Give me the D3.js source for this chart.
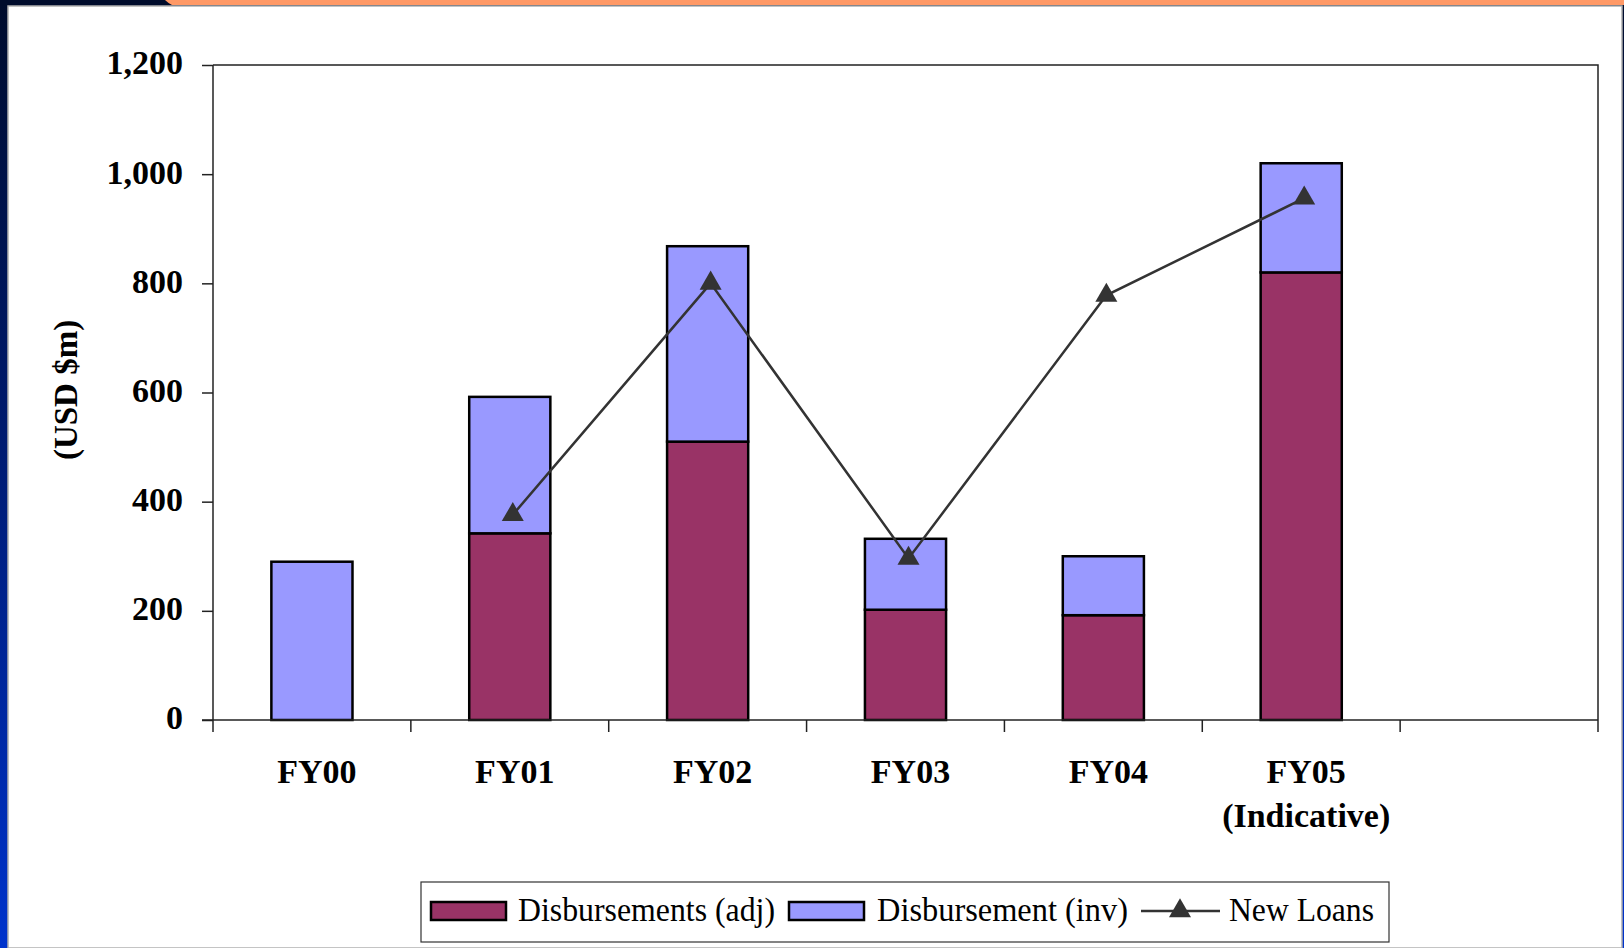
<!DOCTYPE html>
<html lang="en">
<head>
    <meta charset="UTF-8">
    <title>Disbursements and New Loans</title>
    <style>
        body{ margin: 0; background: #fff; }
        #main-svg{ display: block; }
        .tick-lbl{ font-family: "Liberation Serif", "Times New Roman", serif; font-weight: bold; font-size: 34px; fill: #000; }
        .leg-lbl{ font-family: "Liberation Serif", "Times New Roman", serif; font-size: 34px; fill: #000; }
    </style>
</head>
<body>
    <svg id="main-svg" width="1624" height="948" viewBox="0 0 1624 948"></svg>

    <script src="https://cdn.jsdelivr.net/npm/d3@7"></script>
    <script>
        // data
        const years = ['FY00', 'FY01', 'FY02', 'FY03', 'FY04', 'FY05'];
        const yearSub = ['', '', '', '', '', '(Indicative)'];
        const disbAdj = [0, 342, 510, 202, 192, 820];
        const disbInv = [290, 250, 358, 130, 108, 200];
        const newLoans = [null, 376, 800, 296, 778, 956];
        const yTicks = [0, 200, 400, 600, 800, 1000, 1200];

        const cAdj = '#993366', cInv = '#9999FF', cLine = '#333333';

        let svg = d3.select('#main-svg');

        // slide background bits
        let defs = svg.append('defs');
        let grad = defs.append('linearGradient').attr('id', 'side-grad')
            .attr('x1', 0).attr('y1', 0).attr('x2', 0).attr('y2', 1);
        grad.append('stop').attr('offset', '0%').attr('stop-color', '#000c2c');
        grad.append('stop').attr('offset', '45%').attr('stop-color', '#001a6e');
        grad.append('stop').attr('offset', '100%').attr('stop-color', '#0033cc');

        svg.append('rect').attr('x', 0).attr('y', 0).attr('width', 1624).attr('height', 948).attr('fill', 'url(#side-grad)');
        svg.append('rect').attr('x', 0).attr('y', 0).attr('width', 1624).attr('height', 6).attr('fill', '#000c2c');
        svg.append('path').attr('d', 'M165,0 L1624,0 L1624,5 L172,5 Q168,3 165,0 Z').attr('fill', '#FF9966');
        svg.append('rect').attr('x', 8).attr('y', 6).attr('width', 1614).attr('height', 942)
            .attr('fill', '#fff').attr('stroke', '#b0b0b0').attr('stroke-width', 1.5);

        // scales
        const pLeft = 213, pRight = 1598, pTop = 65, pBottom = 720;
        let x = d3.scaleBand().domain(d3.range(7)).range([pLeft, pRight]).padding(0);
        let y = d3.scaleLinear().domain([0, 1200]).range([pBottom, pTop]);
        const barW = x.bandwidth() * 0.41;
        const mid = i => x(i) + x.bandwidth() / 2;

        // plot frame (top + right)
        svg.append('path')
            .attr('d', `M${pLeft},${pTop} H${pRight} V${pBottom}`)
            .attr('fill', 'none').attr('stroke', '#222').attr('stroke-width', 1.5);

        // bars
        let g = svg.append('g');
        years.forEach((yr, i) => {
            let cx = mid(i);
            if (disbAdj[i] > 0) {
                g.append('rect')
                    .attr('x', cx - barW / 2).attr('width', barW)
                    .attr('y', y(disbAdj[i])).attr('height', y(0) - y(disbAdj[i]))
                    .attr('fill', cAdj).attr('stroke', '#000').attr('stroke-width', 2.5);
            }
            g.append('rect')
                .attr('x', cx - barW / 2).attr('width', barW)
                .attr('y', y(disbAdj[i] + disbInv[i])).attr('height', y(disbAdj[i]) - y(disbAdj[i] + disbInv[i]))
                .attr('fill', cInv).attr('stroke', '#000').attr('stroke-width', 2.5);
        });

        // y axis
        let yAx = svg.append('g').attr('transform', `translate(${pLeft},0)`)
            .call(d3.axisLeft(y).tickValues(yTicks).tickSize(11).tickPadding(19).tickFormat(d3.format(',')));
        yAx.select('.domain').attr('stroke', '#222').attr('stroke-width', 1.5).attr('d', `M0,${pTop}V${pBottom + 12}`);
        yAx.selectAll('.tick line').attr('stroke', '#222').attr('stroke-width', 1.5);
        yAx.selectAll('.tick text').attr('class', 'tick-lbl').attr('dy', '0.26em');

        // x axis: line + ticks on band edges
        svg.append('line').attr('x1', pLeft - 11).attr('x2', pRight).attr('y1', pBottom).attr('y2', pBottom)
            .attr('stroke', '#222').attr('stroke-width', 1.5);
        svg.selectAll('.xtick').data(d3.range(1, 8)).enter().append('line')
            .attr('x1', d => d < 7 ? x(d) : pRight).attr('x2', d => d < 7 ? x(d) : pRight)
            .attr('y1', pBottom).attr('y2', pBottom + 12)
            .attr('stroke', '#222').attr('stroke-width', 1.5);

        svg.selectAll('.xlbl').data(years).enter().append('text')
            .attr('class', 'tick-lbl').attr('text-anchor', 'middle')
            .attr('x', (d, i) => mid(i) + 5).attr('y', 783)
            .text(d => d);
        svg.selectAll('.xlbl2').data(yearSub).enter().append('text')
            .attr('class', 'tick-lbl').attr('text-anchor', 'middle')
            .attr('x', (d, i) => mid(i) + 5).attr('y', 827)
            .text(d => d);

        // y title
        svg.append('text').attr('class', 'tick-lbl').attr('text-anchor', 'middle')
            .attr('transform', 'translate(77,390) rotate(-90)').style('font-size', '33px')
            .text('(USD $m)');

        // new loans line
        let line = d3.line()
            .defined(d => d != null)
            .x((d, i) => mid(i) + 3)
            .y(d => y(d));
        svg.append('path').datum(newLoans)
            .attr('d', line).attr('fill', 'none').attr('stroke', cLine).attr('stroke-width', 2.5);

        let tri = d3.symbol().type(d3.symbolTriangle).size(210);
        svg.selectAll('.mk').data(newLoans.map((v, i) => [v, i]).filter(d => d[0] != null)).enter().append('path')
            .attr('d', tri)
            .attr('transform', d => `translate(${mid(d[1]) + 3},${y(d[0])})`)
            .attr('fill', cLine);

        // legend
        let leg = svg.append('g');
        leg.append('rect').attr('x', 421).attr('y', 882).attr('width', 968).attr('height', 60)
            .attr('fill', '#fff').attr('stroke', '#333').attr('stroke-width', 1.2);
        leg.append('rect').attr('x', 431).attr('y', 902).attr('width', 75).attr('height', 18)
            .attr('fill', cAdj).attr('stroke', '#000').attr('stroke-width', 2.5);
        leg.append('text').attr('class', 'leg-lbl').attr('x', 518).attr('y', 921)
            .attr('textLength', 257).attr('lengthAdjust', 'spacingAndGlyphs').text('Disbursements (adj)');
        leg.append('rect').attr('x', 789).attr('y', 902).attr('width', 75).attr('height', 18)
            .attr('fill', cInv).attr('stroke', '#000').attr('stroke-width', 2.5);
        leg.append('text').attr('class', 'leg-lbl').attr('x', 877).attr('y', 921)
            .attr('textLength', 251).attr('lengthAdjust', 'spacingAndGlyphs').text('Disbursement (inv)');
        leg.append('line').attr('x1', 1141).attr('x2', 1220).attr('y1', 911).attr('y2', 911)
            .attr('stroke', cLine).attr('stroke-width', 2.5);
        leg.append('path').attr('d', tri).attr('transform', 'translate(1180,911)').attr('fill', cLine);
        leg.append('text').attr('class', 'leg-lbl').attr('x', 1229).attr('y', 921)
            .attr('textLength', 145).attr('lengthAdjust', 'spacingAndGlyphs').text('New Loans');
    </script>
</body>
</html>
